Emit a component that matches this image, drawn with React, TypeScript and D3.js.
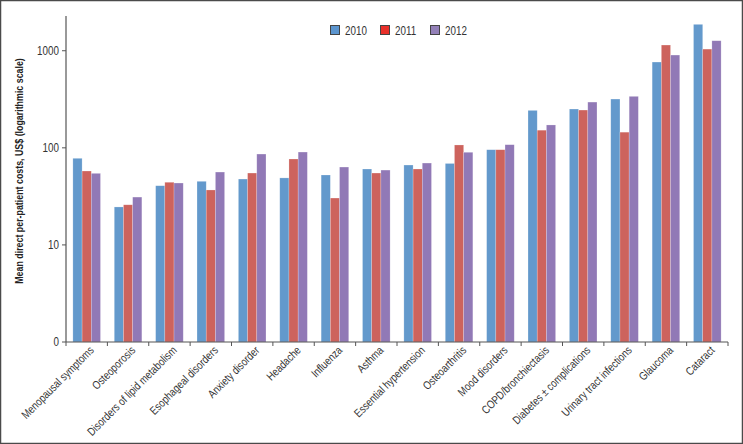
import React from "react";
import * as d3 from "d3";

const categories = [
  "Menopausal symptoms",
  "Osteoporosis",
  "Disorders of lipid metabolism",
  "Esophageal disorders",
  "Anxiety disorder",
  "Headache",
  "Influenza",
  "Asthma",
  "Essential hypertension",
  "Osteoarthritis",
  "Mood disorders",
  "COPD/bronchiectasis",
  "Diabetes \u00b1 complications",
  "Urinary tract infections",
  "Glaucoma",
  "Cataract",
];

const years = ["2010", "2011", "2012"];

const values2010 = [78, 24.6, 40.7, 45.2, 47.7, 49, 52.5, 60.5, 66.5, 69, 95.6, 243, 251, 318, 765, 1870];
const values2011 = [57.7, 25.9, 44.2, 36.8, 55, 76.7, 30.4, 55, 60.5, 107, 95.6, 152, 245, 145, 1145, 1040];
const values2012 = [54.6, 31.1, 43.4, 56.3, 86.3, 90.5, 63.4, 59, 69.7, 90, 107.7, 172, 296, 339, 903, 1268];

const yTicks = [1, 10, 100, 1000];
const yTickLabels = ["0", "10", "100", "1000"];

const barColors = ["#6399cc", "#cd635d", "#9179b6"];
const legendColors = ["#5b95cf", "#e8302a", "#9380b8"];

// no narrow font installed, so squeeze a regular one horizontally
const font = "'Liberation Sans', Arial, sans-serif";
const squeeze = "scale(0.82,1)";

export default function App() {
  const width = 743;
  const height = 444;
  const left = 66;
  const right = 728;
  const top = 16;
  const bottom = 342;

  const series = [values2010, values2011, values2012];

  const x = d3.scaleBand<string>().domain(categories).range([left, right]).padding(0);
  const bw = x.bandwidth();
  const inner = d3
    .scaleBand<string>()
    .domain(years)
    .range([bw / 6, (bw * 5) / 6])
    .padding(0);
  const y = d3.scaleLog().domain([1, 2280]).range([bottom, top]);

  const boundaries = categories.map((c) => x(c) as number).concat([right]);

  return (
    <div>
      <style>{`body{margin:0}`}</style>
      <svg width={width} height={height} style={{ display: "block", fontFamily: font }}>
        <rect x={0} y={0} width={width} height={height} fill="#fff" />
        <rect x={0.5} y={0.5} width={width - 1} height={height - 1} fill="none" stroke="#4a4a4a" strokeWidth={1.5} />

        {/* bars */}
        {categories.map((c, i) => (
          <g key={c} transform={`translate(${x(c)},0)`}>
            {series.map((s, j) => (
              <rect
                key={years[j]}
                x={inner(years[j])}
                y={y(s[i])}
                width={inner.bandwidth()}
                height={bottom - y(s[i])}
                fill={barColors[j]}
                stroke="#ffffff"
                strokeOpacity={0.35}
                strokeWidth={0.6}
              />
            ))}
          </g>
        ))}

        {/* y axis */}
        <line x1={left} x2={left} y1={top} y2={bottom} stroke="#555" strokeWidth={1.2} />
        {yTicks.map((t, i) => (
          <g key={t} transform={`translate(0,${y(t)})`}>
            <line x1={left - 4} x2={left} stroke="#555" strokeWidth={1} />
            <g transform={`translate(${left - 7},0) ${squeeze}`}>
              <text dy="0.35em" textAnchor="end" fontSize={12} fill="#333">
                {yTickLabels[i]}
              </text>
            </g>
          </g>
        ))}
        <text
          transform={`translate(23,171) rotate(-90) scale(0.77,1)`}
          textAnchor="middle"
          fontSize={11.5}
          fontWeight="bold"
          fill="#222"
        >
          Mean direct per-patient costs, US$ (logarithmic scale)
        </text>

        {/* x axis */}
        <line x1={left} x2={right} y1={bottom} y2={bottom} stroke="#555" strokeWidth={1.2} />
        {boundaries.map((b, i) => (
          <line key={i} x1={b} x2={b} y1={bottom} y2={bottom + 4} stroke="#555" strokeWidth={1} />
        ))}
        {categories.map((c) => (
          <text
            key={c}
            transform={`translate(${(x(c) as number) + bw / 2 + 8},${bottom + 9}) rotate(-45) ${squeeze}`}
            textAnchor="end"
            fontSize={11.5}
            fill="#333"
          >
            {c}
          </text>
        ))}

        {/* legend */}
        {years.map((yr, j) => (
          <g key={yr} transform={`translate(${330 + j * 50},25)`}>
            <rect x={0.5} y={0.5} width={9} height={9} fill={legendColors[j]} stroke="#444" strokeWidth={1} />
            <g transform={`translate(15,9.5) ${squeeze}`}>
              <text fontSize={12} fill="#333">
                {yr}
              </text>
            </g>
          </g>
        ))}
      </svg>
    </div>
  );
}
